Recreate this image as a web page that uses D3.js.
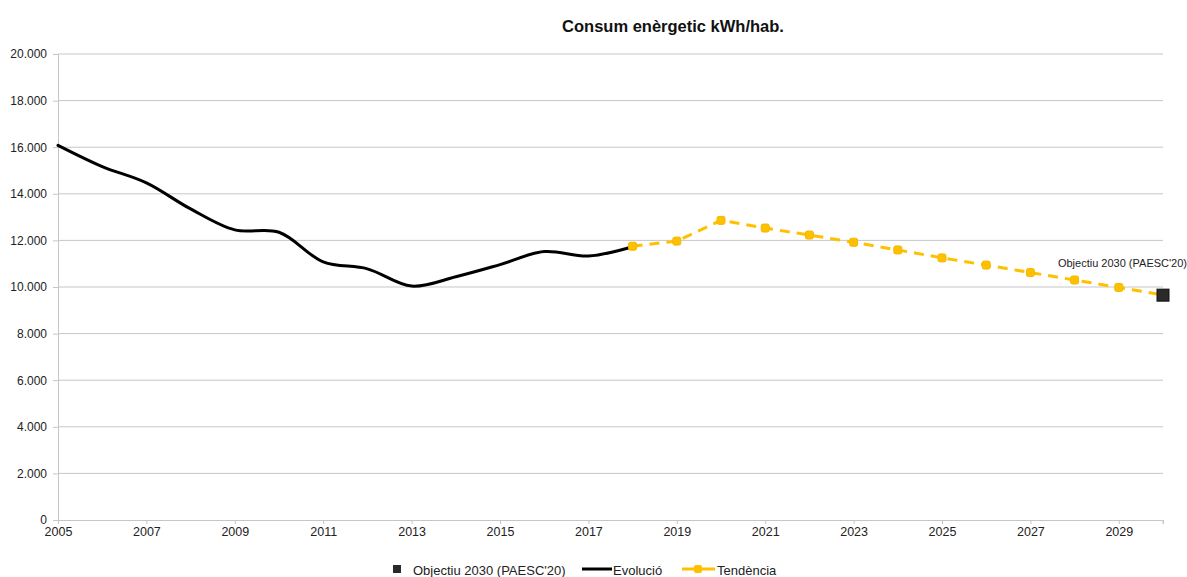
<!DOCTYPE html>
<html>
<head>
<meta charset="utf-8">
<script src="https://cdn.jsdelivr.net/npm/d3@7"></script>
<style>
  html, body { margin: 0; padding: 0; background: #fff; }
  svg { display: block; font-family: "Liberation Sans", Arial, sans-serif; }
</style>
</head>
<body>
<svg id="chart" width="1187" height="577"></svg>
<script>
// Energy consumption per inhabitant (kWh/hab.)
const evolucioYears = [2005, 2006, 2007, 2008, 2009, 2010, 2011, 2012, 2013, 2014, 2015, 2016, 2017, 2018];
const evolucioValues = [16080, 15170, 14470, 13350, 12450, 12350, 11080, 10780, 10040, 10440, 10960, 11520, 11330, 11730];

const tendenciaYears = [2018, 2019, 2020, 2021, 2022, 2023, 2024, 2025, 2026, 2027, 2028, 2029, 2030];
const tendenciaValues = [11750, 11970, 12860, 12530, 12230, 11920, 11590, 11250, 10940, 10620, 10300, 9980, 9660];

const objectiuYears = [2030];
const objectiuValues = [9650];

const xTickYears = [2005, 2007, 2009, 2011, 2013, 2015, 2017, 2019, 2021, 2023, 2025, 2027, 2029];
const yTickValues = [0, 2000, 4000, 6000, 8000, 10000, 12000, 14000, 16000, 18000, 20000];

const titleText = "Consum enèrgetic kWh/hab.";
const objectiuLabel = "Objectiu 2030 (PAESC'20)";
const legendNames = ["Objectiu 2030 (PAESC'20)", "Evolució", "Tendència"];

const svg = d3.select("#chart");
const margin = { left: 58, right: 24, top: 54, bottom: 57 };
const W = 1187, H = 577;

const x = d3.scaleLinear().domain([2005, 2030]).range([margin.left, W - margin.right]);
const y = d3.scaleLinear().domain([0, 20000]).range([H - margin.bottom, margin.top]);

const yellow = "#FFC000";
const grid = "#c6c6c6";
const fmt = v => d3.format(",")(v).replace(/,/g, ".");

// title
svg.append("text")
  .attr("x", 673).attr("y", 32)
  .attr("text-anchor", "middle")
  .attr("font-size", 16.5).attr("font-weight", "bold")
  .attr("fill", "#111")
  .text(titleText);

// horizontal gridlines
svg.append("g").selectAll("line").data(yTickValues.filter(d => d > 0)).join("line")
  .attr("x1", x(2005)).attr("x2", x(2030))
  .attr("y1", d => y(d)).attr("y2", d => y(d))
  .attr("stroke", grid).attr("stroke-width", 1);

// y axis
const yAxis = svg.append("g")
  .attr("transform", `translate(${x(2005)},0)`)
  .call(d3.axisLeft(y).tickValues(yTickValues).tickFormat(fmt).tickSize(5).tickPadding(6));
yAxis.select(".domain").attr("stroke", grid);
yAxis.selectAll(".tick line").attr("stroke", grid);
yAxis.selectAll(".tick text").attr("font-size", 12).attr("fill", "#222")
  .attr("font-family", "Liberation Sans, Arial, sans-serif");

// x axis
const xAxis = svg.append("g")
  .attr("transform", `translate(0,${y(0)})`)
  .call(d3.axisBottom(x).tickValues(xTickYears).tickFormat(d3.format("d")).tickSize(4).tickPadding(3));
xAxis.select(".domain").attr("stroke", grid);
xAxis.selectAll(".tick line").attr("stroke", grid);
xAxis.selectAll(".tick text").attr("font-size", 12.5).attr("fill", "#222")
  .attr("font-family", "Liberation Sans, Arial, sans-serif");
// tick at axis end
xAxis.append("line").attr("x1", x(2030)).attr("x2", x(2030)).attr("y1", 0).attr("y2", 4).attr("stroke", grid);

// Evolució: smoothed black line
const evo = evolucioYears.map((yr, i) => [yr, evolucioValues[i]]);
svg.append("path")
  .datum(evo)
  .attr("fill", "none").attr("stroke", "#000").attr("stroke-width", 3)
  .attr("stroke-linejoin", "round").attr("stroke-linecap", "round")
  .attr("d", d3.line().x(d => x(d[0])).y(d => y(d[1])).curve(d3.curveCatmullRom.alpha(0.5)));

// Tendència: dashed yellow line with square markers
const ten = tendenciaYears.map((yr, i) => [yr, tendenciaValues[i]]);
svg.append("path")
  .datum(ten)
  .attr("fill", "none").attr("stroke", yellow).attr("stroke-width", 3)
  .attr("stroke-dasharray", "10,7")
  .attr("d", d3.line().x(d => x(d[0])).y(d => y(d[1])));
svg.append("g").selectAll("rect").data(ten.slice(0, ten.length - 1)).join("rect")
  .attr("x", d => x(d[0]) - 4).attr("y", d => y(d[1]) - 4)
  .attr("width", 8).attr("height", 8).attr("rx", 2)
  .attr("fill", yellow).attr("stroke", "#f2b800").attr("stroke-width", 1);

// Objectiu 2030 marker and label
const obj = objectiuYears.map((yr, i) => [yr, objectiuValues[i]]);
svg.append("g").selectAll("rect").data(obj).join("rect")
  .attr("x", d => x(d[0]) - 6).attr("y", d => y(d[1]) - 6)
  .attr("width", 12).attr("height", 12)
  .attr("fill", "#2a2a2a").attr("stroke", "#111").attr("stroke-width", 1);
svg.append("g").selectAll("text").data(obj).join("text")
  .attr("x", d => x(d[0]) + 24).attr("y", d => y(d[1]) - 28)
  .attr("text-anchor", "end")
  .attr("font-size", 11).attr("fill", "#222")
  .text(objectiuLabel);

// legend
const lg = svg.append("g").attr("transform", "translate(0,570)");
lg.append("rect").attr("x", 393).attr("y", -5).attr("width", 8).attr("height", 8).attr("fill", "#2a2a2a");
lg.append("text").attr("x", 413).attr("y", 4.5).attr("font-size", 13).attr("fill", "#222").text(legendNames[0]);
lg.append("line").attr("x1", 582).attr("x2", 612).attr("y1", -1).attr("y2", -1).attr("stroke", "#000").attr("stroke-width", 3);
lg.append("text").attr("x", 613).attr("y", 4.5).attr("font-size", 13).attr("fill", "#222").text(legendNames[1]);
lg.append("line").attr("x1", 682).attr("x2", 715).attr("y1", -1).attr("y2", -1).attr("stroke", yellow).attr("stroke-width", 3);
lg.append("rect").attr("x", 694).attr("y", -5).attr("width", 8).attr("height", 8).attr("rx", 2).attr("fill", yellow);
lg.append("text").attr("x", 717).attr("y", 4.5).attr("font-size", 13).attr("fill", "#222").text(legendNames[2]);
</script>
</body>
</html>
